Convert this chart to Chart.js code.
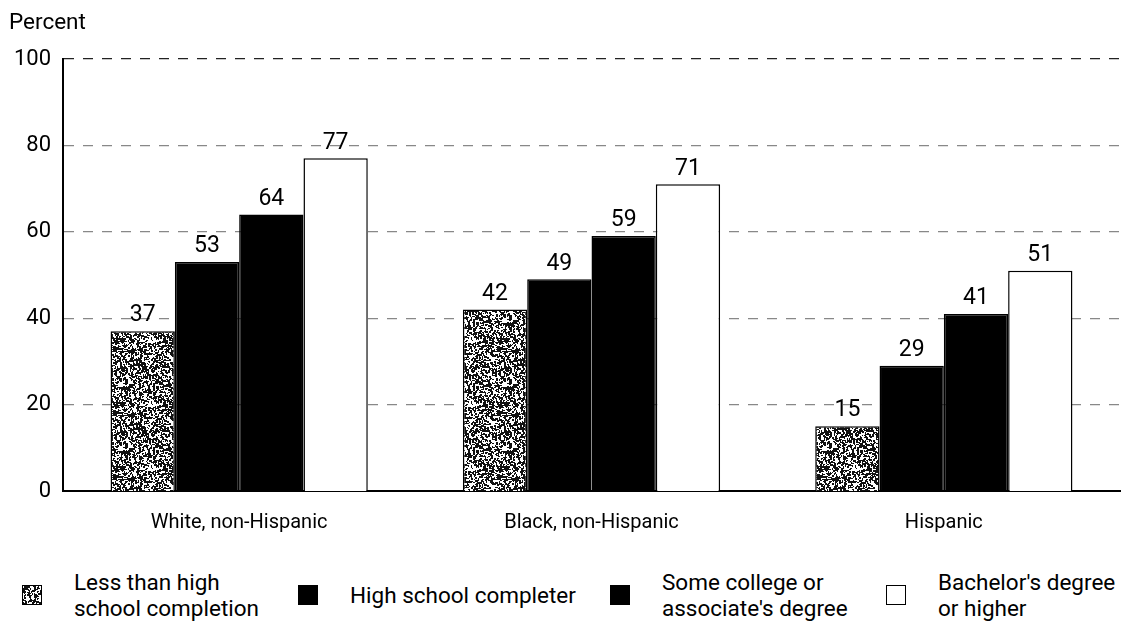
<!DOCTYPE html>
<html>
<head>
<meta charset="utf-8">
<script src="https://cdn.jsdelivr.net/npm/chart.js@4.4.0/dist/chart.umd.min.js"></script>
<style>
  html, body { margin: 0; padding: 0; background: #fff; }
  body { width: 1131px; height: 629px; position: relative; overflow: hidden; font-family: "Roboto", "DejaVu Sans", sans-serif; color: #000; }
  #wrap { position: absolute; left: 0; top: 0; width: 1131px; height: 555px; }
  #legend { position: absolute; left: 0; top: 569px; width: 1131px; height: 60px; }
  .item { position: absolute; top: 0; display: flex; align-items: center; font-size: 22.5px; line-height: 26px; }
  .box { width: 20px; height: 20px; border: 1.5px solid #000; box-sizing: border-box; margin-right: 32px; }
</style>
</head>
<body>
<div id="wrap"><canvas id="chart"></canvas></div>
<div id="legend"></div>
<script>
const groups = ["White, non-Hispanic", "Black, non-Hispanic", "Hispanic"];
const seriesNames = ["Less than high school completion", "High school completer", "Some college or associate's degree", "Bachelor's degree or higher"];
const lessThanHS = [37, 42, 15];
const hsCompleter = [53, 49, 29];
const someCollege = [64, 59, 41];
const bachelors = [77, 71, 51];
const yTicks = [0, 20, 40, 60, 80, 100];

// speckled fill like the printed halftone
const patCanvas = document.createElement('canvas');
function speckle() {
  const c = patCanvas;
  c.width = 64; c.height = 64;
  const g = c.getContext('2d');
  g.fillStyle = '#fff';
  g.fillRect(0, 0, 64, 64);
  let s = 12345;
  function rnd() { s = (s * 1103515245 + 12345) & 0x7fffffff; return s / 0x7fffffff; }
  g.fillStyle = '#111';
  for (let i = 0; i < 1500; i++) {
    let x = Math.floor(rnd() * 64), y = Math.floor(rnd() * 64);
    g.fillRect(x, y, 1 + Math.floor(rnd() * 2), 1 + Math.floor(rnd() * 2));
  }
  return g.createPattern(c, 'repeat');
}
const pat = speckle();

const fills = [pat, '#000', '#000', '#fff'];
const legendLines = [["Less than high", "school completion"], ["High school completer"], ["Some college or", "associate's degree"], ["Bachelor's degree", "or higher"]];
const legendX = [22, 298, 610, 886];

const valueLabels = {
  id: 'valueLabels',
  afterDatasetsDraw(chart) {
    const ctx = chart.ctx;
    ctx.save();
    ctx.font = '23px Roboto, "DejaVu Sans", sans-serif';
    ctx.fillStyle = '#000';
    ctx.textAlign = 'center';
    ctx.textBaseline = 'bottom';
    chart.data.datasets.forEach((ds, i) => {
      chart.getDatasetMeta(i).data.forEach((bar, j) => {
        ctx.fillText(ds.data[j], bar.x, bar.y - 4);
      });
    });
    ctx.restore();
  }
};

const percentTitle = {
  id: 'percentTitle',
  afterDraw(chart) {
    const ctx = chart.ctx;
    ctx.save();
    ctx.font = '22.5px Roboto, "DejaVu Sans", sans-serif';
    ctx.fillStyle = '#000';
    ctx.textAlign = 'left';
    ctx.textBaseline = 'middle';
    ctx.fillText('Percent', 9, 23);
    ctx.restore();
  }
};

const datasets = [lessThanHS, hsCompleter, someCollege, bachelors].map((d, i) => ({
  label: seriesNames[i],
  data: d,
  backgroundColor: fills[i],
  borderColor: '#000',
  borderWidth: 1.5,
  borderSkipped: 'bottom',
  categoryPercentage: 0.73,
  barPercentage: 1.0
}));

new Chart(document.getElementById('chart'), {
  type: 'bar',
  data: { labels: groups, datasets: datasets },
  plugins: [valueLabels, percentTitle],
  options: {
    responsive: true,
    maintainAspectRatio: false,
    animation: false,
    layout: { padding: { top: 59, right: 11, left: 0, bottom: 0 } },
    plugins: { legend: { display: false }, tooltip: { enabled: false } },
    scales: {
      x: {
        grid: { display: false, drawTicks: false },
        border: { color: '#000', width: 2 },
        ticks: { color: '#000', font: { size: 20, family: 'Roboto' }, padding: 20 }
      },
      y: {
        min: 0, max: 100,
        afterBuildTicks(scale) { scale.ticks = yTicks.map(v => ({ value: v })); },
        afterFit(scale) { scale.width = 63; },
        grid: {
          drawTicks: false,
          color: ctx => ctx.tick && ctx.tick.value === 100 ? '#222' : '#888',
          lineWidth: ctx => ctx.tick && ctx.tick.value === 0 ? 0 : 1.2
        },
        border: { color: '#000', width: 2, dash: [10, 9] },
        ticks: { color: '#000', font: { size: 22, family: 'Roboto' }, padding: 12 }
      }
    }
  }
});

const leg = document.getElementById('legend');
const patUrl = patCanvas.toDataURL();
legendLines.forEach((lines, i) => {
  const it = document.createElement('div');
  it.className = 'item';
  it.style.left = legendX[i] + 'px';
  it.style.top = lines.length === 1 ? '13px' : '0px';
  const b = document.createElement('div');
  b.className = 'box';
  if (i === 0) {
    b.style.background = 'url(' + patUrl + ')';
  } else {
    b.style.background = i === 3 ? '#fff' : '#000';
  }
  const t = document.createElement('div');
  t.innerHTML = lines.join('<br>');
  it.appendChild(b);
  it.appendChild(t);
  leg.appendChild(it);
});
</script>
</body>
</html>
